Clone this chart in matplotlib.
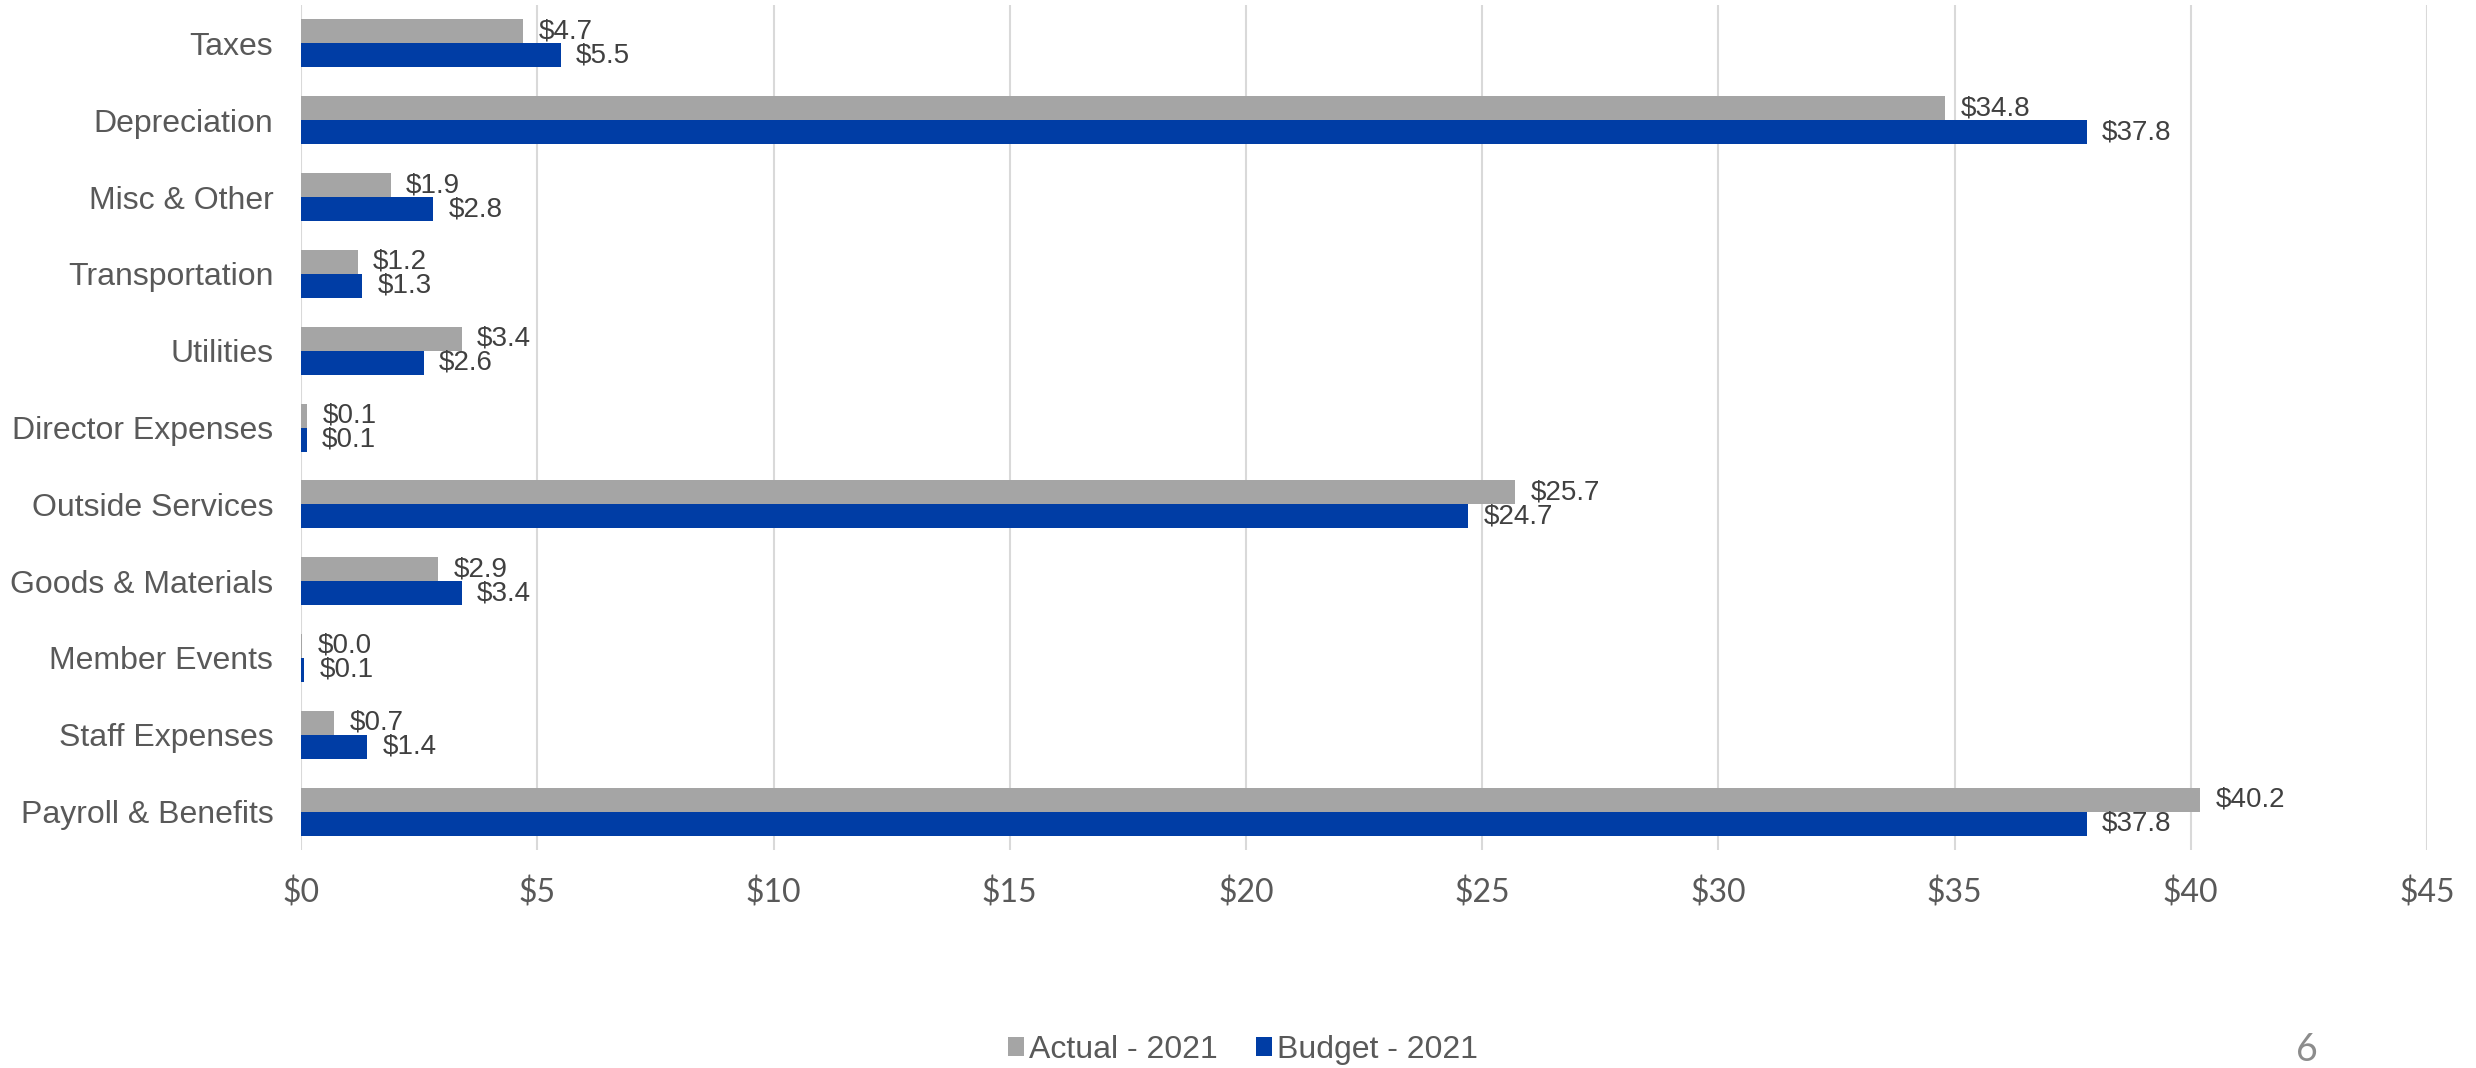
import numpy as np
import matplotlib
matplotlib.use("Agg")
import matplotlib.pyplot as plt
from matplotlib.ticker import FuncFormatter

# data, listed top to bottom as in the chart
categories = ["Taxes", "Depreciation", "Misc & Other", "Transportation", "Utilities",
              "Director Expenses", "Outside Services", "Goods & Materials",
              "Member Events", "Staff Expenses", "Payroll & Benefits"]
actual_2021 = [4.7, 34.8, 1.9, 1.2, 3.4, 0.13, 25.7, 2.9, 0.02, 0.7, 40.2]
budget_2021 = [5.5, 37.8, 2.8, 1.3, 2.6, 0.12, 24.7, 3.4, 0.07, 1.4, 37.8]
series_names = ["Actual - 2021", "Budget - 2021"]
x_ticks = [0, 5, 10, 15, 20, 25, 30, 35, 40, 45]
page_number = "6"

# styling
GREY = "#A5A5A5"
BLUE = "#003DA5"
LABEL_FONT = ["Liberation Sans", "DejaVu Sans"]
TICK_FONT = ["Lato", "DejaVu Sans"]
BAR_H = 0.3125   # gap width ~60%

fig = plt.figure(figsize=(24.76, 10.68), dpi=100)
ax = fig.add_axes([0.1216, 0.2041, 0.9802 - 0.1216, 0.9953 - 0.2041])

# bottom-up positions so the first category sits at the top
n = len(categories)
y = np.arange(n)[::-1]

bars_a = ax.barh(y + BAR_H / 2, actual_2021, height=BAR_H, color=GREY,
                 label=series_names[0], zorder=2)
bars_b = ax.barh(y - BAR_H / 2, budget_2021, height=BAR_H, color=BLUE,
                 label=series_names[1], zorder=2)

# value labels just right of the bar ends
for bars, vals in ((bars_a, actual_2021), (bars_b, budget_2021)):
    for b, v in zip(bars, vals):
        ax.annotate(f"${v:.1f}", xy=(v, b.get_y() + b.get_height() / 2),
                    xytext=(11, 0), textcoords="offset points",
                    ha="left", va="center", fontsize=20, color="#404040",
                    family=LABEL_FONT)

ax.set_xlim(0, 45)
ax.set_ylim(-0.5, n - 0.5)
ax.set_xticks(x_ticks)
ax.xaxis.set_major_formatter(FuncFormatter(lambda v, _: f"${v:.0f}"))
ax.set_yticks(y)
ax.set_yticklabels(categories)

for lbl in ax.get_yticklabels():
    lbl.set_family(LABEL_FONT)
    lbl.set_fontsize(23)
    lbl.set_color("#595959")
for lbl in ax.get_xticklabels():
    lbl.set_family(TICK_FONT)
    lbl.set_fontsize(23)
    lbl.set_color("#595959")

ax.tick_params(axis="both", length=0)
ax.tick_params(axis="y", pad=20)
ax.tick_params(axis="x", pad=20)

ax.grid(axis="x", color="#D9D9D9", linewidth=1.5, zorder=0)
ax.set_axisbelow(True)
for s in ax.spines.values():
    s.set_visible(False)

leg = fig.legend(loc="center", bbox_to_anchor=(0.502, 0.017), ncol=2, frameon=False,
                 handlelength=0.5, handleheight=0.5, handletextpad=0.15,
                 columnspacing=1.2, prop={"family": LABEL_FONT, "size": 23})
for t in leg.get_texts():
    t.set_color("#595959")

fig.text(2307 / 2476, 0.017, page_number, ha="center", va="center",
         fontsize=27, color="#8C8C8C", family=TICK_FONT)

fig.savefig("out.png", dpi=100)
